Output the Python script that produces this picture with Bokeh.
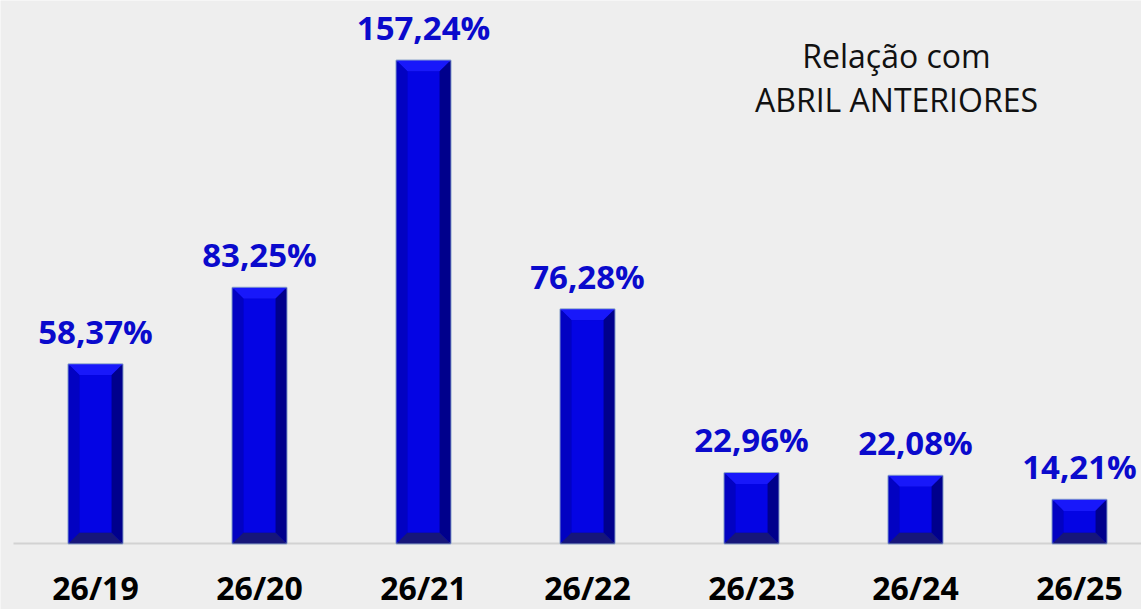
from bokeh.plotting import figure
from bokeh.models import ColumnDataSource, Label, Range1d
from bokeh.core.properties import value
from bokeh.embed import file_html
from bokeh.resources import INLINE

# ---- data ----
categories = ["26/19", "26/20", "26/21", "26/22", "26/23", "26/24", "26/25"]
values = [58.37, 83.25, 157.24, 76.28, 22.96, 22.08, 14.21]
value_labels = [f"{v:.2f}".replace(".", ",") + "%" for v in values]
note_lines = ["Relação com", "ABRIL ANTERIORES"]

# ---- style / layout ----
BG = "#eeeeee"
HALF_W = 0.165      # half bar width (x units)
BX = 0.068          # bevel depth in x units
BY = 3.6            # bevel depth in y units

xs = list(range(len(categories)))

p = figure(width=1141, height=609, output_backend="svg", toolbar_location=None,
           x_range=Range1d(-0.5793, 6.378), y_range=Range1d(-21.48, 176.76),
           x_axis_location=None, y_axis_location=None,
           min_border_left=0, min_border_right=0, min_border_top=0, min_border_bottom=0,
           background_fill_color=BG, border_fill_color=BG, outline_line_color=None)
p.grid.visible = False

# baseline
p.segment(x0=[-0.5], y0=[0], x1=[6.378], y1=[0], line_color="#d2d2d2", line_width=2)

# outer bars (with soft light edge)
src = ColumnDataSource(dict(x=xs, top=values, label=value_labels, cat=categories))
p.vbar(x="x", top="top", bottom=0, width=2 * HALF_W, source=src,
       fill_color="#0000c8", line_color="#8ea6cc", line_width=2)

# bevel faces computed from data
face_xs, face_ys, face_cols = [], [], []
for x, v in zip(xs, values):
    l, r = x - HALF_W, x + HALF_W
    il, ir = l + BX, r - BX
    it, ib = v - BY, BY
    face_xs.append([l, r, ir, il]); face_ys.append([v, v, it, it]); face_cols.append("#1818fa")
    face_xs.append([l, il, il, l]); face_ys.append([v, it, ib, 0]); face_cols.append("#0202c2")
    face_xs.append([r, ir, ir, r]); face_ys.append([v, it, ib, 0]); face_cols.append("#00008c")
    face_xs.append([l, r, ir, il]); face_ys.append([0, 0, ib, ib]); face_cols.append("#16167a")
    face_xs.append([il, ir, ir, il]); face_ys.append([it, it, ib, ib]); face_cols.append("#0404e4")
p.patches(face_xs, face_ys, fill_color=face_cols, line_color=None)

# value labels
p.text(x="x", y="top", text="label", source=src, text_align="center",
       text_baseline="alphabetic", y_offset=-33,
       text_font=value("Open Sans"), text_font_style="bold",
       text_font_size="33px", text_color="#0a0acc")

# category labels
p.text(x="x", y=0, text="cat", source=src, text_align="center",
       text_baseline="alphabetic", y_offset=44,
       text_font=value("Open Sans"), text_font_style="bold",
       text_font_size="32px", text_color="#000000")

# note text
for txt, yy in zip(note_lines, [158.7, 144.5]):
    p.add_layout(Label(x=4.884, y=yy, text=txt, text_align="center",
                       text_baseline="alphabetic", text_font="Open Sans",
                       text_font_size="32px", text_color="#111111"))

html = file_html(p, INLINE)
html = html.replace("<body>", '<body style="background:#eeeeee">', 1)
open("out.html", "w").write(html)
